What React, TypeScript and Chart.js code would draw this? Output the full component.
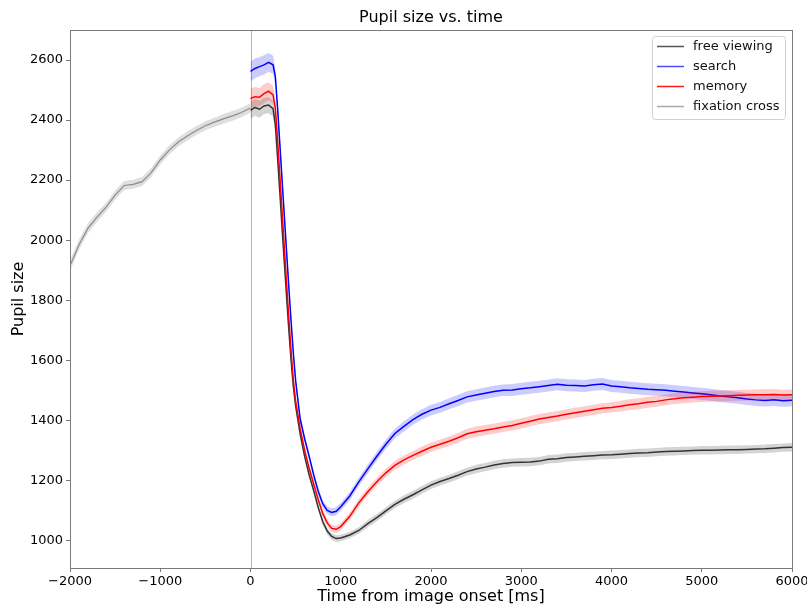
import React, { useEffect, useRef } from 'react';
import { Chart, registerables } from 'chart.js';

Chart.register(...registerables);

const FONT = '"DejaVu Sans", sans-serif';

const chartTitle = 'Pupil size vs. time';
const xAxisTitle = 'Time from image onset [ms]';
const yAxisTitle = 'Pupil size';

const xTickValues = [-2000, -1000, 0, 1000, 2000, 3000, 4000, 5000, 6000];
const yTickValues = [1000, 1200, 1400, 1600, 1800, 2000, 2200, 2400, 2600];

const seriesNames = ['free viewing', 'search', 'memory', 'fixation cross'];

// fixation cross period (before image onset)
const fixTimes = [-2000, -1900, -1800, -1700, -1600, -1500, -1400, -1300, -1200, -1100, -1000,
  -900, -800, -700, -600, -500, -400, -300, -200, -100, 0];
const fixValues = [1915, 1985, 2040, 2077, 2110, 2150, 2182, 2186, 2195, 2225, 2267,
  2300, 2327, 2347, 2365, 2381, 2393, 2404, 2414, 2425, 2440];
const fixSem = [18, 17, 16, 16, 15, 15, 15, 15, 15, 15, 15, 15, 15, 15, 15, 15, 15, 16, 16, 16, 16];

// after image onset
const trialTimes = [0, 50, 100, 150, 200, 250,
  275, 300, 325, 350, 375, 400, 425, 450, 475, 500,
  550, 600, 650, 700, 750, 800, 850, 900, 950, 1000,
  1100, 1200, 1300, 1400, 1500, 1600, 1700, 1800, 1900, 2000,
  2100, 2200, 2300, 2400, 2500, 2600, 2700, 2800, 2900, 3000,
  3100, 3200, 3300, 3400, 3500, 3600, 3700, 3800, 3900, 4000,
  4100, 4200, 4300, 4400, 4500, 4600, 4700, 4800, 4900, 5000,
  5100, 5200, 5300, 5400, 5500, 5600, 5700, 5800, 5900, 6000];

const freeValues = [2432, 2442, 2436, 2447, 2450, 2438,
  2385, 2275, 2160, 2040, 1925, 1810, 1700, 1598, 1512, 1448,
  1355, 1280, 1218, 1166, 1110, 1063, 1031, 1013, 1006, 1008,
  1018, 1033, 1056, 1076, 1098, 1120, 1137, 1152, 1168, 1184,
  1196, 1206, 1217, 1229, 1238, 1244, 1251, 1256, 1259, 1260,
  1261, 1264, 1270, 1272, 1276, 1278, 1280, 1282, 1284, 1285,
  1287, 1289, 1291, 1292, 1294, 1296, 1297, 1298, 1299, 1300,
  1300, 1301, 1302, 1302, 1303, 1304, 1305, 1307, 1309, 1310];
const freeSem = [28, 28, 28, 27, 27, 26,
  25, 24, 22, 20, 19, 18, 17, 16, 15, 14,
  13, 12, 12, 11, 11, 11, 11, 11, 11, 11,
  11, 11, 12, 12, 12, 12, 13, 13, 13, 13,
  13, 13, 13, 13, 14, 14, 14, 14, 14, 14,
  14, 14, 14, 14, 14, 14, 14, 14, 14, 14,
  14, 14, 14, 14, 14, 14, 14, 14, 14, 14,
  14, 14, 14, 14, 14, 14, 14, 14, 14, 14];

const searchValues = [2562, 2572, 2578, 2584, 2592, 2584,
  2545, 2440, 2320, 2200, 2080, 1960, 1842, 1728, 1622, 1532,
  1405, 1338, 1280, 1218, 1164, 1122, 1100, 1093, 1097, 1112,
  1148, 1195, 1238, 1280, 1320, 1356, 1380, 1402, 1420, 1434,
  1443, 1455, 1466, 1478, 1484, 1490, 1496, 1500, 1501, 1505,
  1508, 1512, 1516, 1520, 1517, 1516, 1514, 1518, 1521, 1514,
  1512, 1508, 1506, 1503, 1502, 1500, 1497, 1494, 1491, 1488,
  1485, 1481, 1478, 1475, 1471, 1468, 1466, 1468, 1465, 1467];
const searchSem = [33, 33, 32, 32, 31, 30,
  28, 26, 24, 22, 20, 19, 18, 17, 16, 15,
  14, 14, 13, 13, 13, 13, 13, 13, 13, 13,
  14, 14, 15, 15, 16, 16, 17, 17, 17, 18,
  18, 18, 19, 19, 19, 19, 19, 19, 20, 20,
  20, 20, 20, 20, 20, 20, 20, 20, 20, 20,
  20, 20, 20, 20, 20, 20, 20, 20, 20, 20,
  20, 20, 20, 20, 20, 20, 20, 20, 20, 20];

const memoryValues = [2472, 2478, 2476, 2488, 2496, 2484,
  2440, 2335, 2215, 2095, 1975, 1855, 1740, 1628, 1532, 1464,
  1372, 1300, 1240, 1188, 1136, 1090, 1058, 1040, 1037, 1046,
  1080, 1125, 1162, 1195, 1225, 1250, 1268, 1283, 1297, 1310,
  1320, 1330, 1342, 1355, 1362, 1367, 1372, 1378, 1383, 1390,
  1397, 1404, 1409, 1414, 1420, 1425, 1430, 1435, 1440, 1443,
  1447, 1452, 1455, 1460, 1463, 1468, 1472, 1475, 1477, 1479,
  1480, 1481, 1482, 1483, 1484, 1485, 1485, 1486, 1484, 1485];
const memorySem = [32, 32, 31, 31, 30, 29,
  27, 25, 23, 21, 19, 18, 17, 16, 15, 14,
  13, 13, 12, 12, 12, 12, 12, 12, 12, 12,
  12, 13, 13, 14, 14, 15, 15, 15, 16, 16,
  16, 16, 16, 17, 17, 17, 17, 17, 17, 17,
  17, 17, 17, 17, 17, 17, 17, 17, 17, 17,
  18, 18, 18, 18, 18, 18, 18, 18, 18, 18,
  18, 18, 18, 18, 18, 18, 18, 18, 18, 18];

const lineColors = ['#333333', '#0000ff', '#ff0000', '#8c8c8c'];
const bandColors = ['rgba(0,0,0,0.17)', 'rgba(0,0,255,0.2)', 'rgba(255,0,0,0.2)', 'rgba(128,128,128,0.25)'];
const legendColors = ['#555555', '#4d4dff', '#ff1a1a', '#aaaaaa'];

const minusFmt = (v: number) => (v < 0 ? '\u2212' + Math.abs(v) : String(v));

function buildSeries(times: number[], vals: number[], sem: number[], idx: number, order: number) {
  const upper = times.map((t, i) => ({ x: t, y: vals[i] + sem[i] }));
  const lower = times.map((t, i) => ({ x: t, y: vals[i] - sem[i] }));
  const line = times.map((t, i) => ({ x: t, y: vals[i] }));
  return [
    {
      label: seriesNames[idx] + ' upper',
      data: upper,
      borderWidth: 0,
      borderColor: 'rgba(0,0,0,0)',
      backgroundColor: bandColors[idx],
      pointRadius: 0,
      fill: '+1',
      order: order + 0.5,
    },
    {
      label: seriesNames[idx] + ' lower',
      data: lower,
      borderWidth: 0,
      borderColor: 'rgba(0,0,0,0)',
      backgroundColor: 'rgba(0,0,0,0)',
      pointRadius: 0,
      fill: false,
      order: order + 0.5,
    },
    {
      label: seriesNames[idx],
      data: line,
      borderWidth: idx === 3 ? 1.2 : 1.5,
      borderColor: lineColors[idx],
      backgroundColor: lineColors[idx],
      pointRadius: 0,
      fill: false,
      order: order,
    },
  ];
}

const SPINE = '#7a7a7a';

const decorPlugin = {
  id: 'decor',
  beforeDatasetsDraw(chart: any) {
    const { ctx, chartArea, scales } = chart;
    const x0 = Math.round(scales.x.getPixelForValue(0)) + 0.5;
    ctx.save();
    ctx.strokeStyle = '#b4b4b4';
    ctx.lineWidth = 1;
    ctx.beginPath();
    ctx.moveTo(x0, chartArea.top);
    ctx.lineTo(x0, chartArea.bottom);
    ctx.stroke();
    ctx.restore();
  },
  afterDraw(chart: any) {
    const { ctx, chartArea } = chart;
    ctx.save();
    // spines (top/right)
    ctx.strokeStyle = SPINE;
    ctx.lineWidth = 1;
    ctx.beginPath();
    ctx.moveTo(chartArea.left, Math.round(chartArea.top) + 0.5);
    ctx.lineTo(chartArea.right, Math.round(chartArea.top) + 0.5);
    ctx.moveTo(Math.round(chartArea.right) + 0.5, chartArea.top);
    ctx.lineTo(Math.round(chartArea.right) + 0.5, chartArea.bottom);
    ctx.stroke();

    // legend (matplotlib style)
    const bx = 652.5, by = 36.5, bw = 133, bh = 83, r = 3;
    ctx.fillStyle = 'rgba(255,255,255,0.8)';
    ctx.strokeStyle = '#d0d0d0';
    ctx.beginPath();
    ctx.moveTo(bx + r, by);
    ctx.lineTo(bx + bw - r, by);
    ctx.arcTo(bx + bw, by, bx + bw, by + r, r);
    ctx.lineTo(bx + bw, by + bh - r);
    ctx.arcTo(bx + bw, by + bh, bx + bw - r, by + bh, r);
    ctx.lineTo(bx + r, by + bh);
    ctx.arcTo(bx, by + bh, bx, by + bh - r, r);
    ctx.lineTo(bx, by + r);
    ctx.arcTo(bx, by, bx + r, by, r);
    ctx.closePath();
    ctx.fill();
    ctx.stroke();
    ctx.font = '13px ' + FONT;
    ctx.textBaseline = 'middle';
    ctx.textAlign = 'left';
    seriesNames.forEach((name, i) => {
      const y = 46.5 + i * 20;
      ctx.strokeStyle = legendColors[i];
      ctx.lineWidth = 1.5;
      ctx.beginPath();
      ctx.moveTo(657, y);
      ctx.lineTo(684, y);
      ctx.stroke();
      ctx.fillStyle = '#111111';
      ctx.fillText(name, 693, y);
    });
    ctx.restore();
  },
};

export default function App() {
  const ref = useRef<HTMLCanvasElement | null>(null);
  useEffect(() => {
    document.body.style.margin = '0';
    const canvas = ref.current;
    if (!canvas) return;
    const datasets = [
      ...buildSeries(trialTimes, freeValues, freeSem, 0, 40),
      ...buildSeries(trialTimes, searchValues, searchSem, 1, 30),
      ...buildSeries(trialTimes, memoryValues, memorySem, 2, 20),
      ...buildSeries(fixTimes, fixValues, fixSem, 3, 10),
    ];
    const tickFont = { family: FONT, size: 13 };
    const titleFont = { family: FONT, size: 16, weight: 'normal' as const };
    const chart = new Chart(canvas, {
      type: 'line',
      data: { datasets: datasets as any },
      plugins: [decorPlugin],
      options: {
        animation: false,
        responsive: false,
        maintainAspectRatio: false,
        layout: { padding: { left: 0, right: 15, top: 0, bottom: 0 } },
        elements: { line: { tension: 0 } },
        plugins: {
          legend: { display: false },
          tooltip: { enabled: false },
          title: {
            display: true,
            text: chartTitle,
            fullSize: false,
            color: '#000',
            font: titleFont,
            padding: { top: 8, bottom: 2.8 },
          },
        },
        scales: {
          x: {
            type: 'linear',
            min: -2000,
            max: 6000,
            afterBuildTicks: (s: any) => {
              s.ticks = xTickValues.map((v) => ({ value: v }));
            },
            afterFit: (s: any) => {
              s.height = 40;
              s.paddingLeft = 0;
              s.paddingRight = 0;
            },
            ticks: {
              callback: (v: any) => minusFmt(Number(v)),
              font: tickFont,
              color: '#000',
              padding: 2,
              maxRotation: 0,
              autoSkip: false,
            },
            grid: { display: true, drawOnChartArea: false, drawTicks: true, tickLength: 4, color: SPINE },
            border: { display: true, color: SPINE, width: 1 },
            title: { display: true, text: xAxisTitle, color: '#000', font: titleFont, padding: { top: 0, bottom: 2 } },
          },
          y: {
            type: 'linear',
            min: 908,
            max: 2700,
            afterBuildTicks: (s: any) => {
              s.ticks = yTickValues.map((v) => ({ value: v }));
            },
            afterFit: (s: any) => {
              s.width = 70;
            },
            ticks: {
              callback: (v: any) => minusFmt(Number(v)),
              font: tickFont,
              color: '#000',
              padding: 3,
              autoSkip: false,
            },
            grid: { display: true, drawOnChartArea: false, drawTicks: true, tickLength: 4, color: SPINE },
            border: { display: true, color: SPINE, width: 1 },
            title: { display: true, text: yAxisTitle, color: '#000', font: titleFont, padding: { top: 9, bottom: 0 } },
          },
        },
      } as any,
    });
    return () => chart.destroy();
  }, []);
  return (
    <div style={{ width: 807, height: 608, background: '#fff' }}>
      <canvas ref={ref} width={807} height={608} style={{ display: 'block' }} />
    </div>
  );
}
